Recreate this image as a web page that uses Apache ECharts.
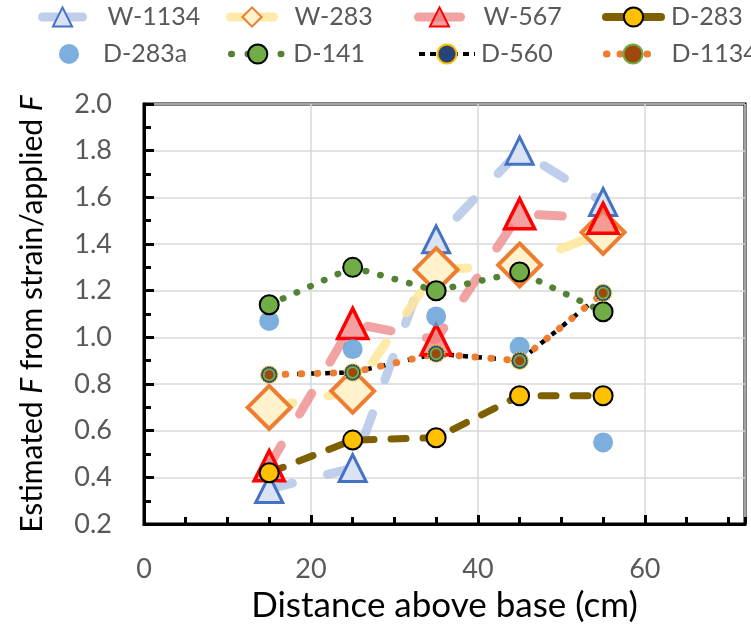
<!DOCTYPE html>
<html>
<head>
<meta charset="utf-8">
<script src="https://cdn.jsdelivr.net/npm/echarts@6/dist/echarts.min.js"></script>
<style>
  html, body { margin: 0; padding: 0; background: #fff; }
  #chart { width: 751px; height: 628px; }
</style>
</head>
<body>
<div id="chart"></div>
<script>
// Gauge heights above the base (cm)
const heights = [15, 25, 35, 45, 55];

// Estimated F from strain divided by applied F, one array per test
const w1134 = [0.35, 0.44, 1.42, 1.80, 1.58];
const w283  = [0.70, 0.77, 1.29, 1.31, 1.45];
const w567  = [0.45, 1.06, 0.99, 1.53, 1.51];
const d283  = [0.42, 0.56, 0.57, 0.75, 0.75];
const d283a = [1.07, 0.95, 1.09, 0.96, 0.55];
const d141  = [1.14, 1.30, 1.20, 1.28, 1.11];
const d560  = [0.84, 0.85, 0.93, 0.90, 1.19];
const d1134 = [0.84, 0.85, 0.93, 0.90, 1.19];

const xTicks = [0, 20, 40, 60];
const yTicks = [0.2, 0.4, 0.6, 0.8, 1.0, 1.2, 1.4, 1.6, 1.8, 2.0];

const FONT = 'Lato, "Noto Sans", sans-serif';
const pairs = arr => heights.map((h, i) => [h, arr[i]]);

const series = [
  {
    name: 'W-1134', type: 'line', data: pairs(w1134),
    symbol: 'triangle', symbolSize: 27,
    itemStyle: { color: '#dae3f3', borderColor: '#4472c4', borderWidth: 3 },
    lineStyle: { color: 'rgba(180,199,231,0.85)', width: 9, type: [24, 36], cap: 'round' }
  },
  {
    name: 'W-283', type: 'line', data: pairs(w283),
    symbol: 'diamond', symbolSize: 43,
    itemStyle: { color: '#fff2cc', borderColor: '#ed7d31', borderWidth: 4 },
    lineStyle: { color: 'rgba(255,230,153,0.85)', width: 9, type: [24, 36], cap: 'round' }
  },
  {
    name: 'W-567', type: 'line', data: pairs(w567),
    symbol: 'triangle', symbolSize: 30,
    itemStyle: { color: 'rgba(240,120,120,0.7)', borderColor: '#ff0000', borderWidth: 3.5 },
    lineStyle: { color: 'rgba(238,140,140,0.8)', width: 9, type: [24, 36], cap: 'round' }
  },
  {
    name: 'D-283', type: 'line', data: pairs(d283),
    symbol: 'circle', symbolSize: 19,
    itemStyle: { color: '#ffc000', borderColor: '#000', borderWidth: 2 },
    lineStyle: { color: '#7f6000', width: 7, type: [15, 17], cap: 'round' }
  },
  {
    name: 'D-283a', type: 'scatter', data: pairs(d283a),
    symbol: 'circle', symbolSize: 20,
    itemStyle: { color: '#5b9bd5' }
  },
  {
    name: 'D-141', type: 'line', data: pairs(d141),
    symbol: 'circle', symbolSize: 19,
    itemStyle: { color: '#70ad47', borderColor: '#000', borderWidth: 2 },
    lineStyle: { color: '#548235', width: 6.5, type: [0.5, 14.5], cap: 'round' }
  },
  {
    name: 'D-560', type: 'line', data: pairs(d560),
    symbol: 'circle', symbolSize: 17,
    itemStyle: { color: '#264478', borderColor: '#ffc000', borderWidth: 1.5, borderType: 'dotted' },
    lineStyle: { color: '#000', width: 4.5, type: [5, 9] }
  },
  {
    name: 'D-1134', type: 'line', data: pairs(d1134),
    symbol: 'circle', symbolSize: 11,
    itemStyle: { color: '#9e480e', borderColor: '#70ad47', borderWidth: 2 },
    lineStyle: { color: '#ed7d31', width: 7, type: [0.5, 15.5], cap: 'round' }
  }
];
series.forEach(s => { s.emphasis = { disabled: true }; s.z = 2; });

// One legend block per entry so the two rows line up in fixed columns
const legendSlots = [
  { name: 'W-1134', left: 38,  top: 4,  w: 40, pad: 20, line: { width: 9, type: 'solid', cap: 'round' } },
  { name: 'W-283',  left: 226, top: 4,  w: 43, pad: 16, line: { width: 9, type: 'solid', cap: 'round' } },
  { name: 'W-567',  left: 414, top: 4,  w: 42, pad: 18, line: { width: 9, type: 'solid', cap: 'round' } },
  { name: 'D-283',  left: 602, top: 4,  w: 55, pad: 5,  line: { width: 8, type: 'solid', cap: 'round' } },
  { name: 'D-283a', left: 59,  top: 41, w: 20, pad: 19, line: {} },
  { name: 'D-141',  left: 228, top: 41, w: 53, pad: 4,  line: { width: 6.5, type: [0.5, 16], cap: 'round' } },
  { name: 'D-560',  left: 417, top: 41, w: 56, pad: 1,  line: { width: 4, type: [6, 5], cap: 'butt' } },
  { name: 'D-1134', left: 603, top: 41, w: 53, pad: 7,  line: { width: 7, type: [0.5, 13], cap: 'round' } }
];
const legends = legendSlots.map(l => ({
  data: [l.name], left: l.left, top: l.top, padding: 0,
  itemWidth: l.w, itemHeight: 24, selectedMode: false,
  lineStyle: l.line,
  textStyle: { fontFamily: FONT, fontSize: 25, color: '#595959', lineHeight: 26, padding: [0, 0, 0, l.pad] }
}));

const option = {
  animation: false,
  backgroundColor: '#ffffff',
  legend: legends,
  grid: { left: 144, top: 104, right: 6, bottom: 100, show: true, borderColor: '#000', borderWidth: 3 },
  xAxis: [
    {
      type: 'value', min: 0, max: 72, interval: 20,
      axisLine: { show: true, lineStyle: { color: '#000', width: 3 } },
      axisTick: { show: true, inside: true, length: 9, lineStyle: { color: '#000', width: 3 } },
      axisLabel: {
        margin: 32, fontFamily: FONT, fontSize: 27, color: '#595959', showMaxLabel: false,
        formatter: v => (xTicks.indexOf(v) >= 0 ? String(v) : '')
      },
      splitLine: { show: true, lineStyle: { color: '#d9d9d9', width: 1.5 } },
      name: 'Distance above base (cm)', nameLocation: 'middle', nameGap: 59,
      nameTextStyle: { fontFamily: FONT, fontSize: 35, color: '#000' }
    },
    {
      type: 'value', min: 0, max: 72, interval: 5, position: 'bottom',
      axisLine: { show: false },
      axisTick: { show: true, inside: true, length: 7, lineStyle: { color: '#000', width: 3 } },
      axisLabel: { show: false },
      splitLine: { show: false }
    }
  ],
  yAxis: {
    type: 'value', min: 0.2, max: 2.0, interval: 0.2,
    axisLine: { show: true, lineStyle: { color: '#000', width: 3 } },
    axisTick: { show: true, inside: true, length: 10, lineStyle: { color: '#000', width: 3 } },
    minorTick: { show: true, splitNumber: 2, length: 7, lineStyle: { color: '#000', width: 3 } },
    axisLabel: {
      margin: 32, fontFamily: FONT, fontSize: 27, color: '#595959',
      formatter: v => {
        const t = yTicks.find(y => Math.abs(y - v) < 1e-6);
        return t === undefined ? '' : t.toFixed(1);
      }
    },
    splitLine: { show: true, lineStyle: { color: '#d9d9d9', width: 1.5 } },
    name: '{a|Estimated }{b|F}{a| from strain/applied }{b|F}',
    nameLocation: 'middle', nameRotate: 90, nameGap: 97,
    nameTextStyle: {
      rich: {
        a: { fontFamily: FONT, fontSize: 30, color: '#000' },
        b: { fontFamily: FONT, fontSize: 30, color: '#000', fontStyle: 'italic' }
      }
    }
  },
  series: series
};

const chart = echarts.init(document.getElementById('chart'), null, { renderer: 'canvas' });
chart.setOption(option);
</script>
</body>
</html>
